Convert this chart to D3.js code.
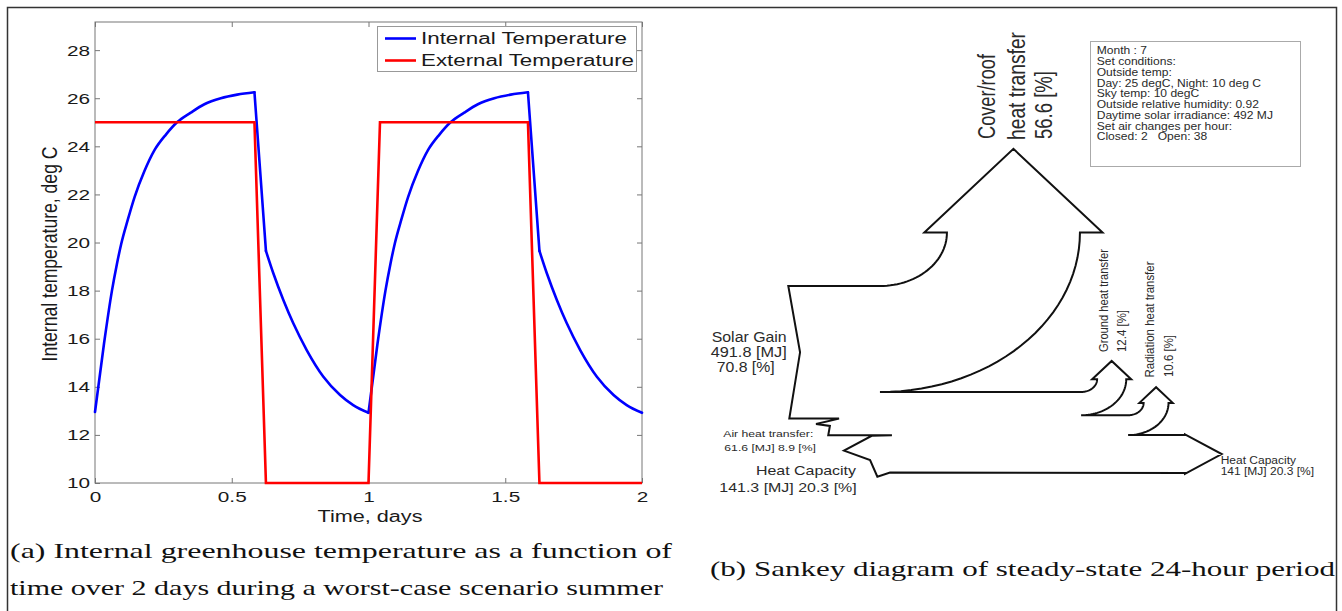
<!DOCTYPE html>
<html>
<head>
<meta charset="utf-8">
<script src="https://cdn.jsdelivr.net/npm/d3@7"></script>
<style>
  body { margin: 0; background: #fff; }
  svg { display: block; }
</style>
</head>
<body>
<svg id="fig" width="1342" height="611"></svg>
<script>
// ---- data ----
// (a) temperature over two days
var timeDays = [0, 0.033, 0.062, 0.08, 0.096, 0.12, 0.145, 0.18, 0.218, 0.26, 0.30, 0.35, 0.40, 0.46, 0.52, 0.583,
  0.625, 0.652, 0.689, 0.725, 0.774, 0.835, 0.896, 0.944, 1.0,
  1.033, 1.062, 1.08, 1.096, 1.12, 1.145, 1.18, 1.218, 1.26, 1.30, 1.35, 1.40, 1.46, 1.52, 1.583,
  1.625, 1.652, 1.689, 1.725, 1.774, 1.835, 1.896, 1.944, 2.0];
var internalTemp = [12.95, 15.8, 18.0, 19.1, 19.95, 20.95, 21.9, 22.95, 23.85, 24.5, 25.0, 25.4, 25.75, 26.0, 26.15, 26.25,
  19.65, 18.72, 17.6, 16.64, 15.53, 14.42, 13.66, 13.24, 12.92,
  15.8, 18.0, 19.1, 19.95, 20.95, 21.9, 22.95, 23.85, 24.5, 25.0, 25.4, 25.75, 26.0, 26.15, 26.25,
  19.65, 18.72, 17.6, 16.64, 15.53, 14.42, 13.66, 13.24, 12.92];
var extTimeDays = [0, 0.583, 0.625, 1.0, 1.042, 1.583, 1.625, 2.0];
var externalTemp = [25, 25, 10, 10, 25, 25, 10, 10];
var xTicks = [0, 0.5, 1, 1.5, 2];
var yTicks = [10, 12, 14, 16, 18, 20, 22, 24, 26, 28];
var seriesNames = ["Internal Temperature", "External Temperature"];
var seriesColors = ["#0000ff", "#ff0000"];

// (b) sankey flows, percent of total (inputs +, outputs -)
var flowNames = ["Solar Gain", "Air heat transfer", "Heat Capacity", "Cover/roof heat transfer",
  "Ground heat transfer", "Radiation heat transfer", "Heat Capacity"];
var flowPercent = [70.8, 8.9, 20.3, -56.6, -12.4, -10.6, -20.3];
var flowSide = ["left", "left", "left", "top", "top", "top", "right"];
var infoLines = ["Month : 7", "Set conditions:", "Outside temp:", "Day: 25 degC, Night: 10 deg C",
  "Sky temp: 10 degC", "Outside relative humidity: 0.92", "Daytime solar irradiance: 492 MJ",
  "Set air changes per hour:", "Closed: 2   Open: 38"];

var captionA = ["(a) Internal greenhouse temperature as a function of",
  "time over 2 days during a worst-case scenario summer"];
var captionB = "(b) Sankey diagram of steady-state 24-hour period";

var sans = "'Liberation Sans', Arial, Helvetica, sans-serif";
var serif = "'Liberation Serif', 'Times New Roman', serif";

var svg = d3.select("#fig");

// outer frame (open at the bottom edge of the picture)
svg.append("rect")
  .attr("x", 7.5).attr("y", 7.5)
  .attr("width", 1329).attr("height", 640)
  .attr("fill", "none").attr("stroke", "#333").attr("stroke-width", 1.5);

function addText(g, str, o) {
  var t = g.append("text").text(str)
    .attr("font-family", o.family || sans)
    .attr("font-size", o.size)
    .attr("fill", o.fill || "#222")
    .attr("text-anchor", o.anchor || "start")
    .attr("dy", "0.35em")
    .style("white-space", "pre");
  if (o.len) t.attr("textLength", o.len).attr("lengthAdjust", "spacingAndGlyphs");
  var tr = "translate(" + o.x + "," + o.y + ")";
  if (o.sx) tr += " scale(" + o.sx + ",1)";
  if (o.rot) tr += " rotate(" + o.rot + ")";
  t.attr("transform", tr);
  return t;
}

// ================= (a) line chart =================
var x = d3.scaleLinear().domain([0, 2]).range([95, 642]);
var y = d3.scaleLinear().domain([10, 29.17]).range([483, 22]);

var plot = svg.append("g");

function styleTicks(g) {
  g.select(".domain").remove();
  g.selectAll(".tick line").attr("stroke", "#777");
  g.selectAll(".tick text")
    .attr("font-family", sans).attr("font-size", 15.5).attr("fill", "#1a1a1a");
}

plot.append("g")
  .attr("transform", "translate(0,483)")
  .call(d3.axisBottom(x).tickValues(xTicks).tickSize(-5).tickFormat(function(d) { return String(d); }))
  .call(styleTicks)
  .call(function(g) {
    g.selectAll(".tick text").attr("y", 0).attr("transform", "translate(0,8) scale(1.34,1)");
  });

plot.append("g")
  .attr("transform", "translate(0,22)")
  .call(d3.axisTop(x).tickValues(xTicks).tickSize(-5).tickFormat(""))
  .call(styleTicks);

plot.append("g")
  .attr("transform", "translate(95,0)")
  .call(d3.axisLeft(y).tickValues(yTicks).tickSize(-5))
  .call(styleTicks)
  .call(function(g) {
    g.selectAll(".tick text").attr("x", 0).attr("transform", "translate(-5,0) scale(1.34,1)");
  });

plot.append("g")
  .attr("transform", "translate(642,0)")
  .call(d3.axisRight(y).tickValues(yTicks).tickSize(-5).tickFormat(""))
  .call(styleTicks);

// axes box
plot.append("rect")
  .attr("x", x(0)).attr("y", y.range()[1])
  .attr("width", x(2) - x(0)).attr("height", y.range()[0] - y.range()[1])
  .attr("fill", "none").attr("stroke", "#777").attr("stroke-width", 1);

// internal temperature: smooth pieces between turning points and sharp slope changes
var intPts = timeDays.map(function(t, i) { return [t, internalTemp[i]]; });
var breaks = [0];
for (var i = 1; i < intPts.length - 1; i++) {
  var sL = (intPts[i][1] - intPts[i - 1][1]) / (intPts[i][0] - intPts[i - 1][0]);
  var sR = (intPts[i + 1][1] - intPts[i][1]) / (intPts[i + 1][0] - intPts[i][0]);
  if (sL * sR < 0 || Math.abs(sL) > 3 * Math.abs(sR) || Math.abs(sR) > 3 * Math.abs(sL)) breaks.push(i);
}
breaks.push(intPts.length - 1);

var smooth = d3.line()
  .x(function(d) { return x(d[0]); })
  .y(function(d) { return y(d[1]); })
  .curve(d3.curveMonotoneX);

for (var b = 0; b < breaks.length - 1; b++) {
  plot.append("path")
    .datum(intPts.slice(breaks[b], breaks[b + 1] + 1))
    .attr("d", smooth)
    .attr("fill", "none")
    .attr("stroke", seriesColors[0])
    .attr("stroke-width", 2.6)
    .attr("stroke-linecap", "round");
}

plot.append("path")
  .datum(extTimeDays.map(function(t, i) { return [t, externalTemp[i]]; }))
  .attr("d", d3.line().x(function(d) { return x(d[0]); }).y(function(d) { return y(d[1]); }))
  .attr("fill", "none")
  .attr("stroke", seriesColors[1])
  .attr("stroke-width", 2.6);

// legend
var legend = plot.append("g");
legend.append("rect")
  .attr("x", 377.5).attr("y", 26.5).attr("width", 259).attr("height", 45)
  .attr("fill", "#fff").attr("stroke", "#999");
var legendLen = [206, 213];
seriesNames.forEach(function(name, i) {
  var ly = 38.5 + i * 22;
  legend.append("line")
    .attr("x1", 385).attr("x2", 416).attr("y1", ly).attr("y2", ly)
    .attr("stroke", seriesColors[i]).attr("stroke-width", 2.6);
  addText(legend, name, { x: 421, y: ly, size: 16, len: legendLen[i], fill: "#1a1a1a" });
});

// axis titles
addText(plot, "Time, days", { x: 370, y: 516, size: 16, anchor: "middle", len: 105, fill: "#1a1a1a" });
addText(plot, "Internal temperature, deg C",
  { x: 49, y: 254, size: 17, anchor: "middle", len: 215, sx: 1.3, rot: -90, fill: "#1a1a1a" });

// ================= (b) sankey =================
var su = d3.scaleLinear().domain([0, 100]).range([788.3, 1023.3]);   // horizontal, % of total
var sv = d3.scaleLinear().domain([0, 100]).range([286, 473.3]);      // vertical, % of total

var topLayout = [{ cx: 39, r: 28.5 }, { cx: 124.6, r: 6.8 }, { cx: 144.6, r: 6.6 }];
var rightX = 168.8;
// input tails: [u offset, fraction down the band]
var tails = [
  [[0, 0], [5, 0.5], [0.43, 1]],
  [[21.6, 0], [11.8, 0.32], [17.7, 0.44], [17, 1]],
  [[44.1, 0], [35.5, 0.015], [23.7, 0.405], [34.8, 0.65], [37.9, 1.09], [43.3, 0.98]]
];

function arc(cx, cy, r, a0, a1) {
  var out = [];
  for (var s = 0; s <= 30; s++) {
    var a = (a0 + (a1 - a0) * s / 30) * Math.PI / 180;
    out.push([cx + r * Math.cos(a), cy + r * Math.sin(a)]);
  }
  return out;
}

var pts = [[0, 0]];
var level = 0, k = 0;
flowPercent.forEach(function(f, i) {
  if (flowSide[i] !== "top") return;
  var w = -f, L = topLayout[k++], base = level - L.r;
  var sh = 0.17 * w, len = 0.79 * w, x0 = L.cx + L.r, x1 = x0 + w;
  pts.push([L.cx, level]);
  pts = pts.concat(arc(L.cx, base, L.r, 90, 0));
  pts.push([x0 - sh, base], [x0 + w / 2, base - len], [x1 + sh, base], [x1, base]);
  pts = pts.concat(arc(L.cx, base, L.r + w, 0, 90));
  level += w;
});
flowPercent.forEach(function(f, i) {
  if (flowSide[i] !== "right") return;
  var w = -f, sh = 0.02 * w, len = 0.77 * w;
  pts.push([rightX, level], [rightX, level - sh], [rightX + len, level + w / 2],
    [rightX, level + w + sh], [rightX, level + w]);
  level += w;
});
// inputs, walked from the bottom back to the top
var inBands = [], acc = 0;
flowPercent.forEach(function(f, i) {
  if (flowSide[i] === "left") { inBands.push([acc, f]); acc += f; }
});
for (var j = inBands.length - 1; j >= 0; j--) {
  var bandTop = inBands[j][0], bandW = inBands[j][1];
  tails[j].slice().reverse().forEach(function(p) { pts.push([p[0], bandTop + p[1] * bandW]); });
}

var sankey = svg.append("g");
sankey.append("path")
  .attr("d", d3.line().x(function(d) { return su(d[0]); }).y(function(d) { return sv(d[1]); })(pts) + "Z")
  .attr("fill", "none")
  .attr("stroke", "#111")
  .attr("stroke-width", 2)
  .attr("stroke-linejoin", "miter");

// flow labels
var tc = "#2a2a2a";
addText(sankey, "Cover/roof", { x: 987, y: 139, size: 18.5, len: 85, sx: 1.3, rot: -90, fill: tc });
addText(sankey, "heat transfer", { x: 1017, y: 140, size: 18.5, len: 108, sx: 1.3, rot: -90, fill: tc });
addText(sankey, "56.6 [%]", { x: 1044, y: 139, size: 18.5, len: 68, sx: 1.3, rot: -90, fill: tc });

addText(sankey, "Ground heat transfer", { x: 1103.5, y: 352, size: 11, len: 103, sx: 1.15, rot: -90, fill: tc });
addText(sankey, "12.4 [%]", { x: 1121.5, y: 352, size: 11, len: 42, sx: 1.15, rot: -90, fill: tc });
addText(sankey, "Radiation heat transfer", { x: 1150, y: 377.5, size: 11, len: 116, sx: 1.15, rot: -90, fill: tc });
addText(sankey, "10.6 [%]", { x: 1168.5, y: 377, size: 11, len: 42, sx: 1.15, rot: -90, fill: tc });

addText(sankey, "Solar Gain", { x: 711.7, y: 336.7, size: 14, len: 75, fill: tc });
addText(sankey, "491.8 [MJ]", { x: 710.7, y: 351.7, size: 14, len: 76, fill: tc });
addText(sankey, "70.8 [%]", { x: 716.7, y: 366.7, size: 14, len: 58, fill: tc });

addText(sankey, "Air heat transfer:", { x: 723.3, y: 433.3, size: 9.5, len: 90, fill: tc });
addText(sankey, "61.6 [MJ] 8.9 [%]", { x: 724.3, y: 447.3, size: 9.5, len: 91.7, fill: tc });

addText(sankey, "Heat Capacity", { x: 756, y: 470.7, size: 13, len: 100, fill: tc });
addText(sankey, "141.3 [MJ] 20.3 [%]", { x: 719.3, y: 487.7, size: 13, len: 137.4, fill: tc });

addText(sankey, "Heat Capacity", { x: 1220.7, y: 460.7, size: 10, len: 75.3, fill: tc });
addText(sankey, "141 [MJ] 20.3 [%]", { x: 1220.7, y: 471.7, size: 10, len: 93.3, fill: tc });

// info box
sankey.append("rect")
  .attr("x", 1090.5).attr("y", 41.5).attr("width", 210).attr("height", 125)
  .attr("fill", "#fff").attr("stroke", "#aaa");
infoLines.forEach(function(line, i) {
  addText(sankey, line, { x: 1096.7, y: 50.6 + i * 10.75, size: 10.5, sx: 1.15, fill: "#2a2a2a" });
});

// ================= captions =================
addText(svg, captionA[0], { x: 10, y: 551, size: 21, len: 662, family: serif, fill: "#111" });
addText(svg, captionA[1], { x: 10, y: 588, size: 21, len: 653, family: serif, fill: "#111" });
addText(svg, captionB, { x: 710, y: 569, size: 21, len: 625, family: serif, fill: "#111" });
</script>
</body>
</html>
